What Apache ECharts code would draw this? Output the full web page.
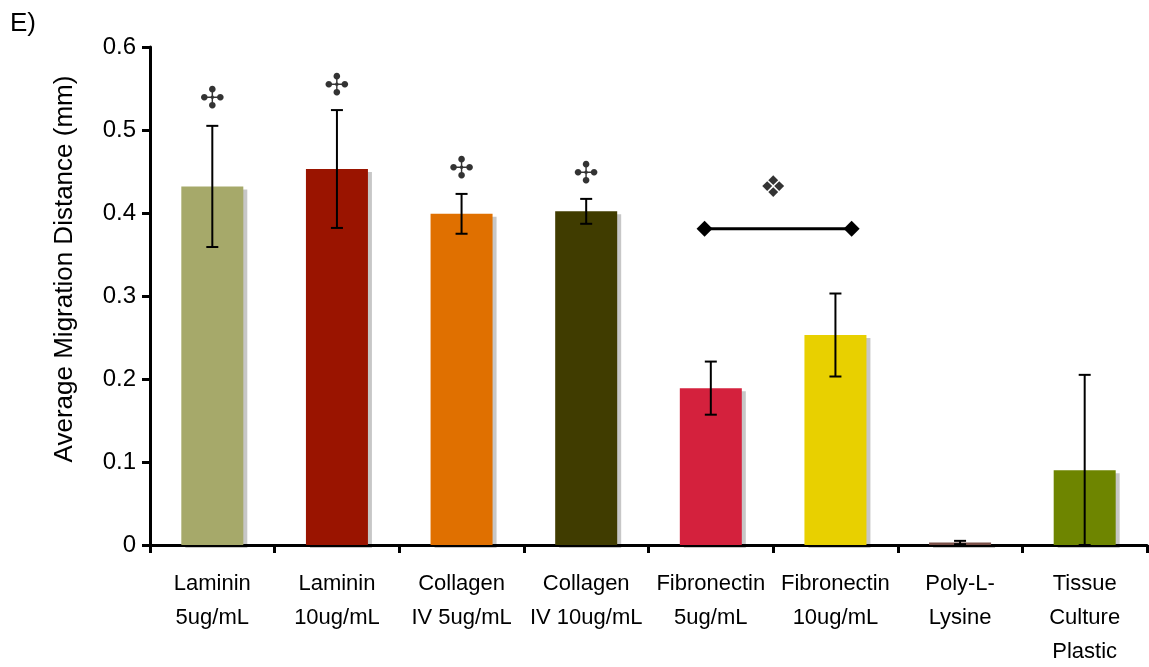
<!DOCTYPE html>
<html>
<head>
<meta charset="utf-8">
<script src="https://cdn.jsdelivr.net/npm/echarts@6/dist/echarts.min.js"></script>
<style>
html,body{margin:0;padding:0;background:#fff;}
#c{width:1149px;height:667px;}
</style>
</head>
<body>
<div id="c"></div>
<script>
// ---- data ----
const categories = [
  'Laminin\n5ug/mL', 'Laminin\n10ug/mL', 'Collagen\nIV 5ug/mL', 'Collagen\nIV 10ug/mL',
  'Fibronectin\n5ug/mL', 'Fibronectin\n10ug/mL', 'Poly-L-\nLysine', 'Tissue\nCulture\nPlastic'
];
const means  = [0.432, 0.453, 0.399, 0.402, 0.189, 0.253, 0.003, 0.090];
const errors = [0.073, 0.071, 0.024, 0.015, 0.032, 0.050, 0.002, 0.115];
const barColors = ['#A6A96A', '#9A1400', '#E07000', '#403C00', '#D4213D', '#E8D000', '#7A5048', '#6E8500'];
const yTicks = [0, 0.1, 0.2, 0.3, 0.4, 0.5, 0.6];
// significance marks: [slot position, value, glyph]
const sigMarks = [
  [0.5, 0.536, '\u2723'],
  [1.5, 0.552, '\u2723'],
  [2.5, 0.452, '\u2723'],
  [3.5, 0.446, '\u2723'],
  [5.0, 0.429, '\u2756']
];
// comparison bracket between fibronectin groups: [slot position, value]
const bracket = [[4.45, 0.381], [5.63, 0.381]];

const FONT = "'Liberation Sans', Arial, sans-serif";
const chart = echarts.init(document.getElementById('c'));

const errData = means.map((m, i) => [i, Math.max(0, m - errors[i]), m + errors[i]]);

chart.setOption({
  animation: false,
  backgroundColor: '#ffffff',
  grid: { left: 150, right: 2, top: 47, bottom: 122, containLabel: false, outerBoundsMode: 'none' },
  title: {
    text: 'E)', left: 5, top: 6,
    textStyle: { fontFamily: FONT, fontSize: 26, fontWeight: 'normal', color: '#000' }
  },
  xAxis: [{
    type: 'category',
    data: categories,
    axisLine: { lineStyle: { color: '#000', width: 3 } },
    axisTick: { show: true, length: 8, lineStyle: { color: '#000', width: 3 } },
    axisLabel: {
      fontFamily: FONT, fontSize: 22, color: '#000', lineHeight: 34,
      margin: 22, interval: 0
    }
  }, {
    type: 'value', min: 0, max: 8, show: false
  }],
  yAxis: {
    type: 'value', min: 0, max: 0.6, interval: 0.1,
    name: 'Average Migration Distance (mm)',
    nameLocation: 'middle', nameGap: 72,
    nameTextStyle: { fontFamily: FONT, fontSize: 26, color: '#000', padding: [0, 0, 0, 54] },
    axisLine: { show: true, lineStyle: { color: '#000', width: 3 } },
    axisTick: { show: true, length: 8, lineStyle: { color: '#000', width: 3 } },
    splitLine: { show: false },
    axisLabel: {
      fontFamily: FONT, fontSize: 24, color: '#000', margin: 14,
      formatter: v => {
        const t = yTicks.find(k => Math.abs(k - v) < 1e-9);
        return t === 0 ? '0' : t.toFixed(1);
      }
    }
  },
  series: [
    {
      type: 'bar',
      barWidth: 62,
      data: means.map((v, i) => ({
        value: v,
        itemStyle: {
          color: barColors[i],
          shadowColor: 'rgba(0,0,0,0.22)', shadowBlur: 0, shadowOffsetX: 4, shadowOffsetY: 3
        }
      })),
      z: 2
    },
    {
      type: 'custom',
      data: errData,
      z: 5,
      renderItem: (params, api) => {
        const x = api.value(0);
        const lo = api.coord([x, api.value(1)]);
        const hi = api.coord([x, api.value(2)]);
        const h = 6;
        const st = { stroke: '#000', lineWidth: 2 };
        return {
          type: 'group',
          children: [
            { type: 'line', shape: { x1: lo[0], y1: lo[1], x2: hi[0], y2: hi[1] }, style: st },
            { type: 'line', shape: { x1: hi[0] - h, y1: hi[1], x2: hi[0] + h, y2: hi[1] }, style: st },
            { type: 'line', shape: { x1: lo[0] - h, y1: lo[1], x2: lo[0] + h, y2: lo[1] }, style: st }
          ]
        };
      }
    },
    {
      type: 'line',
      xAxisIndex: 1,
      data: bracket,
      symbol: 'diamond',
      symbolSize: 16,
      showSymbol: true,
      itemStyle: { color: '#000' },
      lineStyle: { color: '#000', width: 3 },
      z: 6
    },
    {
      type: 'scatter',
      xAxisIndex: 1,
      data: sigMarks.map(s => ({ value: [s[0], s[1]], glyph: s[2] })),
      symbolSize: 1,
      itemStyle: { color: 'rgba(0,0,0,0)' },
      label: {
        show: true, position: 'inside',
        formatter: p => p.data.glyph,
        fontFamily: "'DejaVu Sans', sans-serif", fontSize: 30, color: '#000'
      },
      z: 6
    }
  ]
});
</script>
</body>
</html>
